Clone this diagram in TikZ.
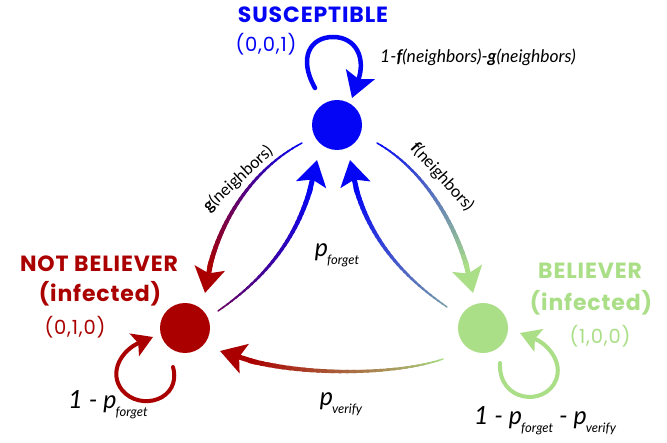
\documentclass[tikz,border=0pt]{standalone}
\usepackage{fontspec}
\setmainfont{Lato}
\newfontfamily\pop{Poppins}[LetterSpace=4]
\usetikzlibrary{arrows.meta}
\definecolor{cblue}{RGB}{5,5,245}
\definecolor{cred}{RGB}{170,0,0}
\definecolor{cgreen}{RGB}{170,222,135}
\tikzset{
  state/.style={circle, fill=#1, minimum size=50pt, inner sep=0pt},
  title/.style={font=\pop\bfseries\fontsize{22}{24}\selectfont, text=#1, inner sep=0pt},
  subtitle/.style={font=\pop\fontsize{19.5}{21}\selectfont, text=#1, inner sep=0pt},
  lab/.style={font=\fontsize{16.5}{18}\selectfont, inner sep=0pt},
  plab/.style={font=\itshape\fontsize{25}{28}\selectfont, inner sep=0pt},
  bigtip/.style={-{Stealth[length=25pt,width=30pt,inset=5pt]}},
  looptip/.style={-{Stealth[length=20pt,width=24pt,inset=4pt]}},
  bluetip/.style={-{Stealth[length=25pt,width=30pt,inset=5pt]}},
}
\newcommand{\pp}[1]{p\kern-1pt{\fontsize{13}{14}\selectfont\raisebox{-8pt}{#1}}}
\newcommand{\gradcurve}[8]{%
  \foreach \i in {1,...,30}{%
    \pgfmathsetmacro\ta{(\i-1)/30*0.86}%
    \pgfmathsetmacro\tb{min(\i/30*0.86+0.01,0.86)}%
    \pgfmathtruncatemacro\mx{100-100*(\i-1)/30}%
    \pgfmathsetmacro\lw{#7+(#8-#7)*(\i-1)/30}%
    \path (#1) .. controls (#2) and (#3) .. (#4) coordinate[pos=\ta] (qa) coordinate[pos=\tb] (qb);
    \draw[line width=\lw pt, color=#5!\mx!#6, line cap=round] (qa) -- (qb);
  }%
  \path (#1) .. controls (#2) and (#3) .. (#4) coordinate[pos=0.84] (qc);
  \draw[line width=#8 pt, color=#6, bigtip] (qc) -- (#4);
}
\begin{document}
\begin{tikzpicture}[x=1pt,y=-1pt]
\useasboundingbox[fill=white] (0,0) rectangle (667,443);
% states
\node[state=cblue] (S) at (337,125) {};
\node[state=cred] (NB) at (185,328) {};
\node[state=cgreen] (B) at (483,328) {};
% titles
\node[title=cblue] (tS) at (313,15) {SUSCEPTIBLE};
\node[subtitle=cblue] (vS) at (266,44) {(0,0,1)};
\node[title=cred] (tNB) at (99,264) {NOT BELIEVER};
\node[title=cred] (iNB) at (100,294) {(infected)};
\node[subtitle=cred] (vNB) at (75,327) {(0,1,0)};
\node[title=cgreen] (tB) at (590,271) {BELIEVER};
\node[title=cgreen] (iB) at (591,303) {(infected)};
\node[subtitle=cgreen] (vB) at (600,336) {(1,0,0)};
% edge coordinates
\coordinate (g0) at (302,143); \coordinate (g1) at (250,170); \coordinate (g2) at (212,230); \coordinate (g3) at (205,293);
\coordinate (h0) at (218,311); \coordinate (h1) at (270,275); \coordinate (h2) at (305,230); \coordinate (h3) at (317,160);
\coordinate (k0) at (447,307); \coordinate (k1) at (400,275); \coordinate (k2) at (360,230); \coordinate (k3) at (350,160);
\coordinate (m0) at (377,143); \coordinate (m1) at (425,170); \coordinate (m2) at (462,230); \coordinate (m3) at (473,293);
\coordinate (n0) at (443,359); \coordinate (n1) at (395,376); \coordinate (n2) at (285,378); \coordinate (n3) at (220,351);
\gradcurve{g0}{g1}{g2}{g3}{cblue}{cred}{1.5}{5}
\gradcurve{h0}{h1}{h2}{h3}{cred!60!cblue}{cblue}{1.5}{5}
\gradcurve{k0}{k1}{k2}{k3}{cgreen!70!cblue}{cblue}{1.5}{5}
\gradcurve{m0}{m1}{m2}{m3}{cblue}{cgreen}{1.5}{5}
\gradcurve{n0}{n1}{n2}{n3}{cgreen}{cred}{1.5}{5}
% self loops
\coordinate (sa) at (315,88); \coordinate (sb) at (333,37); \coordinate (sc) at (352,98);
\draw[cblue, line width=4.5pt, line cap=round, bluetip] (sa) .. controls (298,58) and (310,37) .. (sb) .. controls (356,37) and (366,58) .. (sc);
\coordinate (ra) at (173,367); \coordinate (rb) at (122,390); \coordinate (rc) at (153,337);
\draw[cred, line width=4pt, line cap=round, looptip] (ra) .. controls (182,400) and (140,412) .. (rb) .. controls (108,372) and (122,350) .. (rc);
\coordinate (ba) at (500,363); \coordinate (bb) at (556,380); \coordinate (bc) at (520,333);
\draw[cgreen, line width=4pt, line cap=round, looptip] (ba) .. controls (498,402) and (545,407) .. (bb) .. controls (563,362) and (548,344) .. (bc);
% labels
\node[lab, font=\itshape\fontsize{17.5}{19}\selectfont] (lS) at (478,57) {1-{\bfseries f}(neighbors)-{\bfseries g}(neighbors)};
\node[lab, rotate=43] (lg) at (238,179) {{\bfseries g}(neighbors)};
\node[lab, rotate=-48] (lf) at (442,177) {{\bfseries f}(neighbors)};
\node[plab] (pf) at (337,255) {\pp{forget}};
\node[plab] (pv) at (341,404) {\pp{verify}};
\node[plab] (lNB) at (108,405) {1 - \pp{forget}};
\node[plab] (lB) at (545,421) {1 - \pp{forget} - \pp{verify}};
\end{tikzpicture}
\end{document}
